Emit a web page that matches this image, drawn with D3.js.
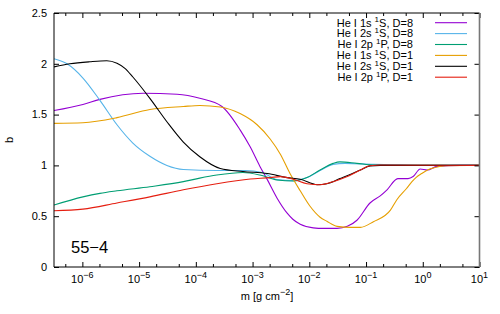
<!DOCTYPE html>
<html><head><meta charset="utf-8">
<script src="https://cdn.jsdelivr.net/npm/d3@7"></script>
<style>body{margin:0;background:#fff}svg{display:block}text{font-family:"Liberation Sans",Arial,sans-serif}</style>
</head><body><svg id="c" width="500" height="314"></svg>
<script>
// log10(m) positions and b values
const labels = ["He I 1s ^1S, D=8","He I 2s ^1S, D=8","He I 2p ^1P, D=8","He I 1s ^1S, D=1","He I 2s ^1S, D=1","He I 2p ^1P, D=1"];
const colors = ["#9400d3","#56b4e9","#009e73","#e69f00","#000000","#e51e10"];

const purpleLog = [-6.50,-5.99,-5.69,-4.93,-4.33,-3.93,-3.54,-3.22,-3.04,-2.87,-2.74,-2.57,-2.39,-2.29,-2.16,-1.93,-1.75,-1.51,-1.33,-1.16,-0.93,-0.75,-0.63,-0.44,-0.26,-0.17,-0.045,0.08,0.25,0.66,1.0];
const purpleB   = [1.54,1.60,1.65,1.71,1.70,1.66,1.58,1.35,1.18,0.99,0.86,0.68,0.53,0.47,0.42,0.385,0.38,0.38,0.40,0.46,0.63,0.70,0.76,0.87,0.87,0.89,0.965,0.955,0.99,1.0,1.0];

const blueLog = [-6.50,-6.27,-5.99,-5.69,-5.39,-5.11,-4.81,-4.51,-4.22,-3.63,-3.13,-2.83,-2.57,-2.28,-2.04,-1.81,-1.58,-1.37,-0.87,-0.40,0.31,1.0];
const blueB   = [2.05,2.00,1.86,1.64,1.40,1.22,1.09,1.00,0.96,0.95,0.95,0.93,0.86,0.85,0.88,0.95,1.01,1.02,1.01,1.005,1.0,1.0];

const greenLog = [-6.50,-5.99,-5.69,-5.39,-4.81,-4.22,-3.93,-3.63,-3.17,-2.87,-2.57,-2.28,-2.04,-1.81,-1.58,-1.46,-1.16,-0.87,-0.40,1.0];
const greenB   = [0.61,0.69,0.725,0.75,0.79,0.84,0.875,0.905,0.93,0.905,0.856,0.846,0.88,0.955,1.02,1.035,1.02,1.004,1.0,1.0];

const orangeLog = [-6.50,-5.99,-5.39,-4.81,-4.22,-3.93,-3.57,-3.22,-2.92,-2.69,-2.51,-2.34,-2.16,-1.99,-1.81,-1.69,-1.51,-1.28,-1.10,-0.87,-0.57,-0.46,-0.29,-0.19,-0.12,-0.02,0.10,0.22,0.40,1.0];
const orangeB   = [1.414,1.42,1.47,1.55,1.58,1.59,1.575,1.51,1.40,1.26,1.11,0.92,0.75,0.60,0.49,0.45,0.40,0.39,0.39,0.446,0.56,0.66,0.77,0.84,0.88,0.92,0.96,0.98,0.997,1.0];

const blackLog = [-6.50,-6.22,-5.87,-5.57,-5.39,-5.25,-5.11,-4.81,-4.51,-4.22,-3.93,-3.57,-3.17,-2.74,-2.39,-2.16,-1.86,-1.69,-1.46,-1.28,-1.10,-0.93,-0.75,1.0];
const blackB   = [1.97,2.00,2.02,2.03,2.005,1.955,1.87,1.66,1.43,1.23,1.085,0.97,0.94,0.92,0.88,0.863,0.81,0.82,0.87,0.91,0.955,0.995,1.0,1.0];

const redLog = [-6.50,-5.99,-5.39,-4.81,-4.22,-3.63,-3.04,-2.69,-2.51,-2.28,-2.04,-1.81,-1.58,-1.33,-1.10,-0.93,-0.75,1.0];
const redB   = [0.554,0.57,0.63,0.69,0.76,0.82,0.866,0.88,0.89,0.863,0.82,0.81,0.84,0.89,0.955,0.997,1.004,1.0];

const seriesLog = [purpleLog, blueLog, greenLog, orangeLog, blackLog, redLog];
const seriesB = [purpleB, blueB, greenB, orangeB, blackB, redB];

const xTickExp = [-6,-5,-4,-3,-2,-1,0,1];
const yTicks = [0,0.5,1,1.5,2,2.5];

const L = 54, R = 479.5, T = 13, B = 267;
const svg = d3.select("#c");
const x = d3.scaleLog().domain([Math.pow(10,-6.5), 10]).range([L, R]);
const y = d3.scaleLinear().domain([0, 2.5]).range([B, T]);

svg.append("clipPath").attr("id","clip").append("rect").attr("x",L).attr("y",T).attr("width",R-L).attr("height",B-T);

const line = d3.line().x(d => x(d[0])).y(d => y(d[1])).curve(d3.curveMonotoneX);
const g = svg.append("g").attr("clip-path","url(#clip)");
seriesLog.forEach((lg, i) => {
  const pts = lg.map((v, j) => [Math.pow(10, v), seriesB[i][j]]);
  g.append("path").attr("d", line(pts)).attr("fill","none").attr("stroke",colors[i]).attr("stroke-width",1.1);
});

const minor = [];
for (let e = -7; e <= 0; e++) [2,5].forEach(k => { const v = k*Math.pow(10,e); if (v >= Math.pow(10,-6.5) && v <= 10) minor.push(v); });
const majors = xTickExp.map(e => Math.pow(10,e));
function styleAx(sel){ sel.select(".domain").remove(); sel.selectAll("line").attr("stroke","#000"); sel.selectAll("text").remove(); }
svg.append("g").attr("transform",`translate(0,${B})`).call(d3.axisTop(x).tickValues(majors).tickSize(5)).call(styleAx);
svg.append("g").attr("transform",`translate(0,${B})`).call(d3.axisTop(x).tickValues(minor).tickSize(3)).call(styleAx);
svg.append("g").attr("transform",`translate(0,${T})`).call(d3.axisBottom(x).tickValues(majors).tickSize(5)).call(styleAx);
svg.append("g").attr("transform",`translate(0,${T})`).call(d3.axisBottom(x).tickValues(minor).tickSize(3)).call(styleAx);
svg.append("g").attr("transform",`translate(${L},0)`).call(d3.axisRight(y).tickValues(yTicks).tickSize(5)).call(styleAx);
svg.append("g").attr("transform",`translate(${R},0)`).call(d3.axisLeft(y).tickValues(yTicks).tickSize(5)).call(styleAx);

svg.append("path").attr("d",`M${R},${T}H${L}V${B}H${R}`).attr("fill","none").attr("stroke","#000").attr("stroke-width",1);
svg.append("line").attr("x1",R).attr("x2",R).attr("y1",T).attr("y2",B).attr("stroke","#777").attr("stroke-width",1.6);

yTicks.forEach(v => {
  svg.append("text").attr("x",47).attr("y",y(v)).attr("dy","0.35em").attr("text-anchor","end").attr("font-size",11).text(d3.format("")(v));
});
xTickExp.forEach(e => {
  const t = svg.append("text").attr("x",x(Math.pow(10,e))).attr("y",283).attr("text-anchor","middle").attr("font-size",11);
  t.append("tspan").text("10");
  t.append("tspan").attr("dy",-5).attr("font-size",9).text(e < 0 ? "\u2212" + (-e) : String(e));
});

const xt = svg.append("text").attr("x",267).attr("y",300).attr("text-anchor","middle").attr("font-size",11);
xt.append("tspan").text("m [g cm");
xt.append("tspan").attr("dy",-5).attr("font-size",9).text("\u22122");
xt.append("tspan").attr("dy",5).text("]");
svg.append("text").attr("transform","translate(13,140) rotate(-90)").attr("text-anchor","middle").attr("font-size",11).text("b");

svg.append("text").attr("x",71).attr("y",253).attr("font-size",16.5).text("55\u22124");

labels.forEach((lab, i) => {
  const yy = 22.7 + i*10.9;
  const parts = lab.split("^");
  const t = svg.append("text").attr("x",413).attr("y",yy).attr("dy","0.35em").attr("text-anchor","end").attr("font-size",11);
  t.append("tspan").text(parts[0]);
  t.append("tspan").attr("dy",-4.5).attr("font-size",8).text(parts[1][0]);
  t.append("tspan").attr("dy",4.5).text(parts[1].slice(1));
  svg.append("line").attr("x1",435).attr("x2",467).attr("y1",yy).attr("y2",yy).attr("stroke",colors[i]).attr("stroke-width",1.1);
});
</script></body></html>
